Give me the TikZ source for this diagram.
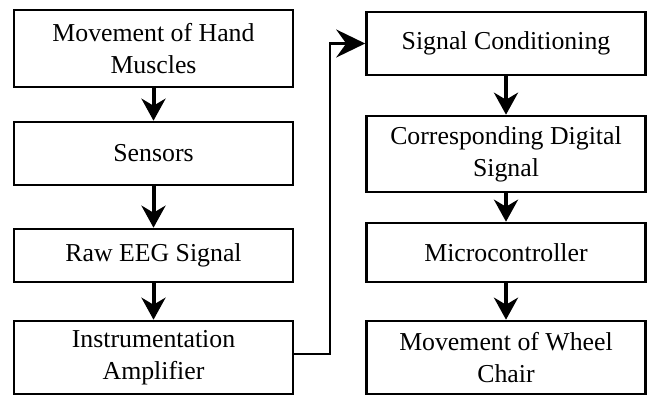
\documentclass[tikz,border=0pt]{standalone}
\usepackage{fontspec}
\setmainfont{LiberationSerif-Regular.ttf}
\usetikzlibrary{arrows.meta}
\begin{document}
\begin{tikzpicture}[x=1pt,y=-1pt,
  block/.style={draw, line width=2.6pt, minimum width=279pt, align=center,
    inner sep=0pt, font=\fontsize{25.8}{32}\selectfont},
  flow/.style={line width=4pt, -{Stealth[length=22pt,width=24pt,inset=7pt]}},
  feed/.style={line width=2.6pt, -{Stealth[length=29pt,width=28pt,inset=10pt]}}]
\useasboundingbox (0,0) rectangle (647,396);
% left column
\node[block, minimum height=77pt] (hand)  at (153.5,48.5) {Movement of Hand\\Muscles};
\node[block, minimum height=63pt] (sens)  at (153.5,153.5) {Sensors};
\node[block, minimum height=53pt] (raw)   at (153.5,255.5) {Raw EEG Signal};
\node[block, minimum height=73pt] (amp)   at (153.5,357.5) {Instrumentation\\Amplifier};
% right column
\node[block, minimum height=63pt] (cond)  at (506,43.5) {Signal Conditioning};
\node[block, minimum height=76pt] (dig)   at (506,154) {Corresponding Digital\\Signal};
\node[block, minimum height=59pt] (mcu)   at (506,252.5) {Microcontroller};
\node[block, minimum height=73pt] (wheel) at (506,357.5) {Movement of Wheel\\Chair};
\coordinate (c1) at (330,354);
\coordinate (c2) at (330,43.5);
% connectors
\draw[flow] (hand) -- (sens);
\draw[flow] (sens) -- (raw);
\draw[flow] (raw) -- (amp);
\draw[feed] (amp.east |- c1) -- (c1) -- (c2) -- (cond.west);
\draw[flow] (cond) -- (dig);
\draw[flow] (dig) -- (mcu);
\draw[flow] (mcu) -- (wheel);
\end{tikzpicture}
\end{document}
